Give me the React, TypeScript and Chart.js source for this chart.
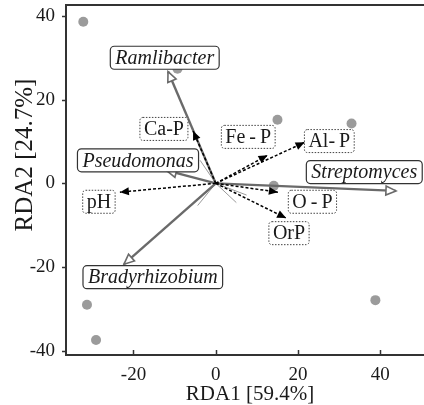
import React, { useEffect, useRef } from "react";
import { Chart, registerables } from "chart.js";

Chart.register(...registerables);

// ---- data ----
const sampleX = [-32.2, -9.3, 15.0, 33.0, 14.1, -31.3, -29.1, 38.8];
const sampleY = [38.6, 27.4, 15.2, 14.3, -0.6, -29.0, -37.4, -27.9];

const speciesNames = ["Ramlibacter", "Pseudomonas", "Streptomyces", "Bradyrhizobium"];
const speciesX = [-11.6, -12.0, 43.8, -22.3];
const speciesY = [26.7, 3.1, -1.8, -19.3];
const speciesLabelX = [-12.4, -18.9, 36.1, -15.3];
const speciesLabelY = [30.0, 5.5, 2.7, -22.4];

const minorSpeciesX = [-4.4, 5.0, -3.8, 7.5];
const minorSpeciesY = [-5.3, -4.6, 5.5, -2.8];

const envNames = ["Ca-P", "pH", "Fe\u2009-\u2009P", "Al-\u2009P", "O\u2009-\u2009P", "OrP"];
const envX = [-5.5, -23.3, 12.6, 21.6, 15.1, 17.1];
const envY = [12.5, -2.1, 6.7, 9.8, -2.1, -8.3];
const envLabelX = [-12.6, -28.4, 7.9, 27.6, 23.5, 17.8];
const envLabelY = [13.0, -4.4, 11.1, 10.1, -4.4, -11.9];

const xTicks = [-20, 0, 20, 40];
const yTicks = [-40, -20, 0, 20, 40];
const xTitle = "RDA1 [59.4%]";
const yTitle = "RDA2 [24.7%]";

const X_MIN = -36.4;
const X_MAX = 49.4;
const Y_MIN = -41.0;
const Y_MAX = 42.6;

const SERIF = '"Liberation Serif", "Times New Roman", serif';
const TEXT = "#1a1a1a";

function drawHead(ctx: CanvasRenderingContext2D, x0: number, y0: number, x1: number, y1: number, kind: string) {
  const ang = Math.atan2(y1 - y0, x1 - x0);
  const len = kind === "env" ? 9 : 10;
  const hw = kind === "env" ? 4 : 4.5;
  const bx = x1 - len * Math.cos(ang);
  const by = y1 - len * Math.sin(ang);
  const px = -Math.sin(ang) * hw;
  const py = Math.cos(ang) * hw;
  ctx.save();
  ctx.setLineDash([]);
  ctx.beginPath();
  ctx.moveTo(x1, y1);
  ctx.lineTo(bx + px, by + py);
  ctx.lineTo(bx - px, by - py);
  ctx.closePath();
  if (kind === "env") {
    ctx.fillStyle = "#000";
    ctx.fill();
  } else {
    ctx.fillStyle = "#fff";
    ctx.fill();
    ctx.strokeStyle = "#6a6a6a";
    ctx.lineWidth = 1.6;
    ctx.stroke();
  }
  ctx.restore();
}

function drawLabel(ctx: CanvasRenderingContext2D, text: string, cx: number, cy: number, kind: string) {
  ctx.save();
  ctx.font = (kind === "species" ? "italic " : "") + "20px " + SERIF;
  const w = ctx.measureText(text).width;
  const padX = kind === "species" ? 5 : 4;
  const h = 23;
  const bx = cx - w / 2 - padX;
  const by = cy - h / 2;
  ctx.beginPath();
  ctx.roundRect(bx, by, w + padX * 2, h, kind === "species" ? 4 : 3);
  ctx.fillStyle = "#fff";
  ctx.fill();
  if (kind === "species") {
    ctx.setLineDash([]);
    ctx.strokeStyle = "#333";
    ctx.lineWidth = 1.2;
  } else {
    ctx.setLineDash([1.5, 1.5]);
    ctx.strokeStyle = "#444";
    ctx.lineWidth = 1;
  }
  ctx.stroke();
  ctx.setLineDash([]);
  ctx.fillStyle = TEXT;
  ctx.textAlign = "center";
  ctx.textBaseline = "middle";
  ctx.fillText(text, cx, cy + 1);
  ctx.restore();
}

const rdaPlugin = {
  id: "rdaDecor",
  afterDatasetsDraw(chart: any) {
    const ctx = chart.ctx as CanvasRenderingContext2D;
    const xs = chart.scales.x;
    const ys = chart.scales.y;
    const ox = xs.getPixelForValue(0);
    const oy = ys.getPixelForValue(0);
    speciesX.forEach((v, i) => {
      drawHead(ctx, ox, oy, xs.getPixelForValue(v), ys.getPixelForValue(speciesY[i]), "species");
    });
    envX.forEach((v, i) => {
      drawHead(ctx, ox, oy, xs.getPixelForValue(v), ys.getPixelForValue(envY[i]), "env");
    });
    speciesNames.forEach((n, i) => {
      drawLabel(ctx, n, xs.getPixelForValue(speciesLabelX[i]), ys.getPixelForValue(speciesLabelY[i]), "species");
    });
    envNames.forEach((n, i) => {
      drawLabel(ctx, n, xs.getPixelForValue(envLabelX[i]), ys.getPixelForValue(envLabelY[i]), "env");
    });
  },
  afterDraw(chart: any) {
    const ctx = chart.ctx as CanvasRenderingContext2D;
    const a = chart.chartArea;
    const xs = chart.scales.x;
    const ys = chart.scales.y;
    ctx.save();
    ctx.strokeStyle = "#333";
    ctx.lineWidth = 2;
    ctx.beginPath();
    ctx.moveTo(a.left - 1, a.top);
    ctx.lineTo(chart.width, a.top);
    ctx.moveTo(a.right - 1, Math.round(a.bottom));
    ctx.lineTo(chart.width, Math.round(a.bottom));
    ctx.stroke();
    ctx.lineWidth = 1.5;
    xTicks.forEach((t) => {
      const px = Math.round(xs.getPixelForValue(t)) + 0.5;
      ctx.beginPath();
      ctx.moveTo(px, a.bottom);
      ctx.lineTo(px, a.bottom - 5);
      ctx.stroke();
    });
    yTicks.forEach((t) => {
      const py = Math.round(ys.getPixelForValue(t)) + 0.5;
      ctx.beginPath();
      ctx.moveTo(a.left - 4, py);
      ctx.lineTo(a.left, py);
      ctx.stroke();
    });
    ctx.fillStyle = TEXT;
    ctx.textAlign = "center";
    ctx.textBaseline = "middle";
    ctx.font = "21px " + SERIF;
    ctx.fillText(xTitle, 250, a.bottom + 39);
    ctx.translate(25, a.top + 150);
    ctx.rotate(-Math.PI / 2);
    ctx.font = "25px " + SERIF;
    ctx.fillText(yTitle, 0, 0);
    ctx.restore();
  },
};

export default function App() {
  const ref = useRef<HTMLCanvasElement | null>(null);
  useEffect(() => {
    document.body.style.margin = "0";
    const canvas = ref.current;
    if (!canvas) return;
    const datasets: any[] = [];
    datasets.push({
      label: "samples",
      data: sampleX.map((x, i) => ({ x, y: sampleY[i] })),
      backgroundColor: "#9b9b9b",
      borderWidth: 0,
      pointRadius: 5,
      order: 10,
    });
    minorSpeciesX.forEach((x, i) => {
      datasets.push({
        label: "minor" + i,
        data: [{ x: 0, y: 0 }, { x, y: minorSpeciesY[i] }],
        showLine: true,
        borderColor: "#9a9a9a",
        borderWidth: 1,
        pointRadius: 0,
        order: 8,
      });
    });
    speciesX.forEach((x, i) => {
      datasets.push({
        label: speciesNames[i],
        data: [{ x: 0, y: 0 }, { x, y: speciesY[i] }],
        showLine: true,
        borderColor: "#6a6a6a",
        borderWidth: 2.4,
        pointRadius: 0,
        order: 6,
      });
    });
    envX.forEach((x, i) => {
      datasets.push({
        label: envNames[i],
        data: [{ x: 0, y: 0 }, { x, y: envY[i] }],
        showLine: true,
        borderColor: "#000",
        borderWidth: 1.5,
        borderDash: [3, 2],
        pointRadius: 0,
        order: 4,
      });
    });

    const chart = new Chart(canvas, {
      type: "scatter",
      data: { datasets },
      options: {
        animation: false,
        responsive: false,
        events: [],
        layout: { padding: { top: 4, left: 0, right: 0, bottom: 0 } },
        plugins: { legend: { display: false }, tooltip: { enabled: false } },
        scales: {
          x: {
            type: "linear",
            min: X_MIN,
            max: X_MAX,
            grid: { display: false },
            border: { display: true, color: "#333", width: 2 },
            afterBuildTicks: (s: any) => {
              s.ticks = xTicks.map((v) => ({ value: v }));
            },
            afterFit: (s: any) => {
              s.height = 50;
              s.paddingLeft = 0;
              s.paddingRight = 0;
              s.paddingTop = 0;
              s.paddingBottom = 0;
            },
            ticks: {
              padding: 1,
              color: TEXT,
              font: { family: SERIF, size: 19 },
              maxRotation: 0,
            },
          },
          y: {
            type: "linear",
            min: Y_MIN,
            max: Y_MAX,
            grid: { display: false },
            border: { display: true, color: "#333", width: 2 },
            afterBuildTicks: (s: any) => {
              s.ticks = yTicks.map((v) => ({ value: v }));
            },
            afterFit: (s: any) => {
              s.width = 66;
              s.paddingLeft = 0;
              s.paddingRight = 0;
              s.paddingTop = 0;
              s.paddingBottom = 0;
            },
            ticks: {
              padding: 3,
              color: TEXT,
              font: { family: SERIF, size: 19 },
            },
          },
        },
      },
      plugins: [rdaPlugin],
    } as any);
    return () => chart.destroy();
  }, []);
  return (
    <div style={{ position: "absolute", left: 0, top: 0, width: 424, height: 405 }}>
      <canvas ref={ref} width={424} height={405} />
    </div>
  );
}
